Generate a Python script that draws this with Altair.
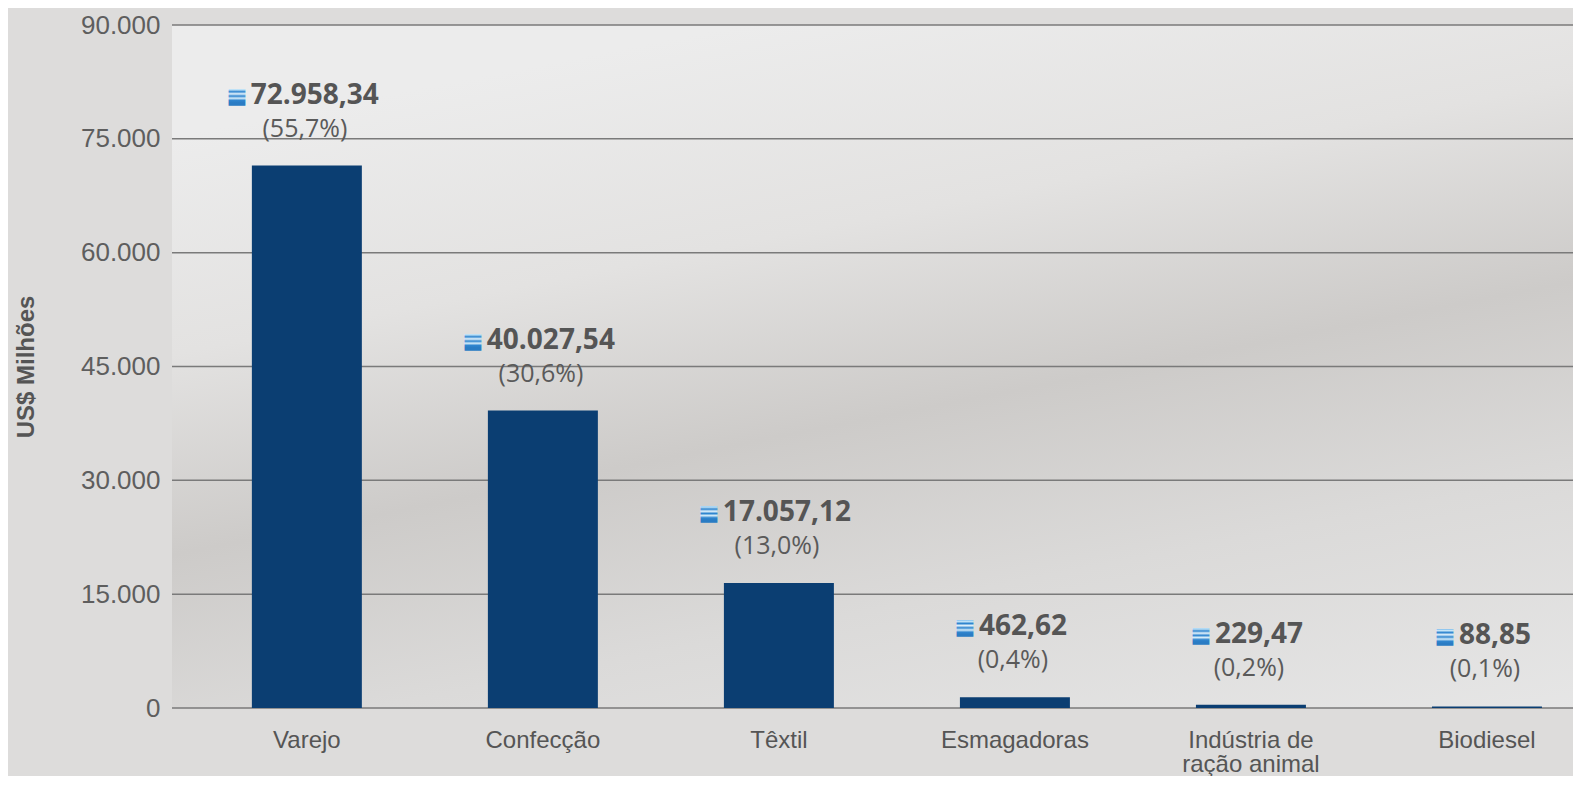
import altair as alt
import pandas as pd

# ---- data ----
sectors = ["Varejo", "Confecção", "Têxtil", "Esmagadoras", "Indústria de\nração animal", "Biodiesel"]
bar_values = [71480, 39190, 16480, 1410, 420, 210]
value_labels = ["72.958,34", "40.027,54", "17.057,12", "462,62", "229,47", "88,85"]
share_labels = ["(55,7%)", "(30,6%)", "(13,0%)", "(0,4%)", "(0,2%)", "(0,1%)"]
y_ticks = [0, 15000, 30000, 45000, 60000, 75000, 90000]

df = pd.DataFrame({"setor": sectors, "valor": bar_values, "vl": value_labels, "pct": share_labels})
ticks_df = pd.DataFrame({"t": y_ticks})

W, H = 1401, 683
TXT = "#555555"
BAR = "#0b3e72"

x_enc = alt.X(
    "setor:N",
    sort=None,
    scale=alt.Scale(paddingInner=0.534, paddingOuter=0.235, align=0.72),
    axis=alt.Axis(
        title=None,
        labelExpr="split(datum.label, '\\n')",
        labelFont="Liberation Sans",
        labelFontSize=24,
        labelColor=TXT,
        labelLineHeight=24,
        labelPadding=20,
        tickSize=0,
        ticks=False,
        domain=False,
        labelAngle=0,
        labelBaseline="top",
    ),
)

y_scale = alt.Scale(domain=[0, 90000], nice=False)

bg = alt.Chart(alt.Data(values=[{}])).mark_rect(
    fill=alt.LinearGradient(
        gradient="linear",
        x1=0.228, y1=0.072, x2=0.668, y2=1.172,
        stops=[
            alt.GradientStop(offset=0, color="#ececec"),
            alt.GradientStop(offset=0.25, color="#e3e2e1"),
            alt.GradientStop(offset=0.48, color="#cdcbc9"),
            alt.GradientStop(offset=0.7, color="#dbdad9"),
            alt.GradientStop(offset=1, color="#e7e7e7"),
        ],
    )
).encode(x=alt.value(0), x2=alt.value("width"), y=alt.value(0), y2=alt.value("height"))

grid = alt.Chart(ticks_df).mark_rule(color="#7a7a7a", strokeWidth=1.5).encode(
    y=alt.Y("t:Q", scale=y_scale)
)

base = alt.Chart(df).transform_calculate(
    d="length(replace(replace(datum.vl, ',', ''), '.', ''))"
).transform_calculate(
    tw="15.95 * datum.d + 8.2 * (length(datum.vl) - datum.d)"
)

bars = base.mark_bar(color=BAR).encode(
    x=x_enc,
    y=alt.Y(
        "valor:Q",
        scale=y_scale,
        axis=alt.Axis(
            values=y_ticks,
            labelExpr="replace(format(datum.value, ',d'), ',', '.')",
            labelFont="Liberation Sans",
            labelFontSize=26,
            labelColor="#5e5e5e",
            labelPadding=12,
            tickSize=0,
            ticks=False,
            domain=False,
            grid=False,
            title="US$ Milhões",
            titleFont="Liberation Sans",
            titleFontSize=24,
            titleFontWeight="bold",
            titleColor=TXT,
            titleAngle=270,
            titleX=-146,
            titleY=H / 2,
            titleAlign="center",
            titleBaseline="middle",
        ),
    ),
)

icon = base.mark_text(
    text="■",
    font="DejaVu Sans",
    fontSize=22,
    baseline="middle",
    align="center",
    dy=-70,
    dx=alt.expr("-(datum.tw + 22) / 2 + 8 - 3"),
    fill=alt.LinearGradient(
        gradient="linear",
        x1=0, y1=0.2, x2=0, y2=0.8,
        stops=[
            alt.GradientStop(offset=0.0, color="#5aa6e6"),
            alt.GradientStop(offset=0.14, color="#c6e6f8"),
            alt.GradientStop(offset=0.28, color="#2f85cf"),
            alt.GradientStop(offset=0.42, color="#e6f4fc"),
            alt.GradientStop(offset=0.57, color="#2f85cf"),
            alt.GradientStop(offset=0.71, color="#d6edfa"),
            alt.GradientStop(offset=0.86, color="#2f85cf"),
            alt.GradientStop(offset=1.0, color="#2a7cc4"),
        ],
    ),
).encode(x=alt.X("setor:N", sort=None), y=alt.Y("valor:Q", scale=y_scale))

vtext = base.mark_text(
    font="Open Sans",
    fontSize=28,
    fontWeight="bold",
    color="#555555",
    align="left",
    baseline="middle",
    dy=-70,
    dx=alt.expr("-(datum.tw + 22) / 2 + 22 - 3"),
).encode(x=alt.X("setor:N", sort=None), y=alt.Y("valor:Q", scale=y_scale), text="vl:N")

ptext = base.mark_text(
    font="Open Sans",
    fontSize=25,
    color="#5a5a5a",
    align="center",
    baseline="middle",
    dy=-37,
    dx=-2,
).encode(x=alt.X("setor:N", sort=None), y=alt.Y("valor:Q", scale=y_scale), text="pct:N")

chart = alt.layer(bg, grid, bars, icon, vtext, ptext).properties(
    width=W,
    height=H,
    autosize=alt.AutoSizeParams(type="none"),
    padding={"left": 164, "top": 17, "right": 0, "bottom": 68},
    background="#dddcdb",
).configure_view(stroke=None)

chart.save("out.html", embed_options={"renderer": "svg", "actions": False})
